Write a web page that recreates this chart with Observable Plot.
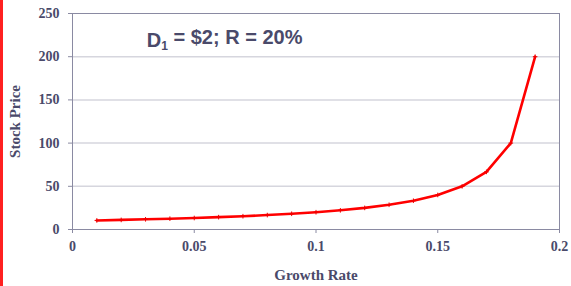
<!DOCTYPE html>
<html>
<head>
<meta charset="utf-8">
<script src="https://cdn.jsdelivr.net/npm/d3@7"></script>
<script src="https://cdn.jsdelivr.net/npm/@observablehq/plot@0.6"></script>
<style>
  html, body { margin: 0; padding: 0; background: #fff; }
  #wrap { position: relative; width: 571px; height: 286px; overflow: hidden; }
  #stripe { position: absolute; left: 0; top: 0; width: 3px; height: 286px; background: #ff2020; }
  g[aria-label="y-axis label"] text, g[aria-label="x-axis label"] text { font-size: 15px; }
</style>
</head>
<body>
<div id="wrap"><div id="stripe"></div></div>
<script>
const growthRates = [0.01,0.02,0.03,0.04,0.05,0.06,0.07,0.08,0.09,0.10,0.11,0.12,0.13,0.14,0.15,0.16,0.17,0.18,0.19];
const stockPrices = [10.5,11.1,11.8,12.5,13.3,14.3,15.4,16.7,18.2,20.0,22.2,25.0,28.6,33.3,40.0,50.0,66.7,100.0,200.0];
const xTicks = [0,0.05,0.1,0.15,0.2];
const yTicks = [0,50,100,150,200,250];
const gridValues = [50,100,150,200];
const annotation = [{x: 0.0305, y: 219, text: "D1 = $2; R = 20%"}];

const data = growthRates.map((g, i) => ({g, p: stockPrices[i]}));
const ink = "#4a4a6a";

const chart = Plot.plot({
  width: 571,
  height: 286,
  marginLeft: 72,
  marginRight: 12,
  marginTop: 13,
  marginBottom: 57,
  style: {fontFamily: "'Liberation Serif', 'Times New Roman', serif", fontWeight: "bold", fontSize: "14px", color: ink, background: "transparent"},
  x: {domain: [0, 0.2]},
  y: {domain: [0, 250]},
  marks: [
    Plot.ruleY(gridValues, {stroke: "#d6d6de", strokeWidth: 1.5}),
    Plot.frame({stroke: "#8a8aa2", strokeWidth: 1}),
    Plot.axisY({ticks: yTicks, tickSize: 4, tickPadding: 9, stroke: "#8a8aa2", label: "Stock Price", labelAnchor: "center", labelArrow: "none", labelOffset: 63, fill: ink}),
    Plot.axisX({ticks: xTicks, tickSize: 4, tickPadding: 8, stroke: "#8a8aa2", tickFormat: d => String(d), label: "Growth Rate", labelAnchor: "center", labelArrow: "none", labelOffset: 50, fill: ink}),
    Plot.line(data, {x: "g", y: "p", stroke: "#ff0000", strokeWidth: 2.6}),
    Plot.dot(data, {x: "g", y: "p", symbol: "plus", r: 1.6, stroke: "#ee0000", strokeWidth: 1}),
    Plot.text(annotation, {x: "x", y: "y", text: "text", textAnchor: "start", lineAnchor: "middle", fontSize: 20, fontWeight: "bold", fill: "#4a4a6a", fontFamily: "'Liberation Sans', Arial, sans-serif", className: "anno"})
  ]
});

document.getElementById("wrap").appendChild(chart);

// subscript for D1
d3.select(chart).selectAll("g.anno text").each(function() {
  const t = d3.select(this);
  const s = t.text();
  t.text(null);
  t.append("tspan").text(s[0]);
  t.append("tspan").attr("font-size", 12).attr("dy", "0.3em").text(s[1]);
  t.append("tspan").attr("dy", "-0.3em").text(s.slice(2));
});
</script>
</body>
</html>
